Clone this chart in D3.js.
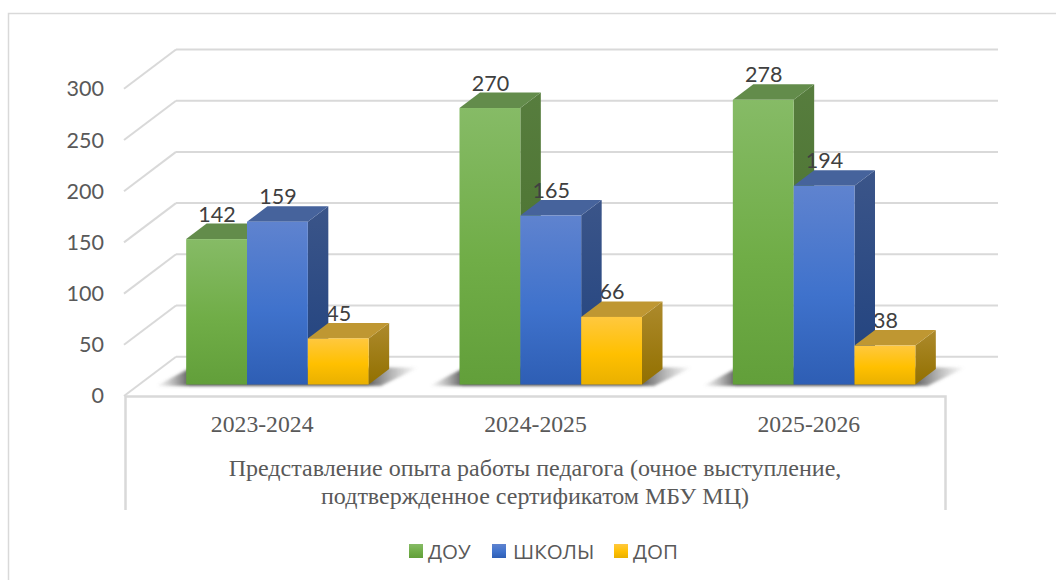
<!DOCTYPE html>
<html>
<head>
<meta charset="utf-8">
<script src="https://cdn.jsdelivr.net/npm/d3@7"></script>
<style>
  html, body { margin: 0; padding: 0; background: #fff; overflow: hidden; }
  svg { display: block; }
  .sans { font-family: Lato, "Open Sans", sans-serif; }
  .legendtxt { font-family: "Open Sans", sans-serif; }
  .serif { font-family: "Liberation Serif", serif; }
</style>
</head>
<body>
<div id="chart"></div>
<script>
// Données du graphique
const years = ["2023-2024", "2024-2025", "2025-2026"];
const seriesNames = ["ДОУ", "ШКОЛЫ", "ДОП"];
const dou = [142, 270, 278];
const shkoly = [159, 165, 194];
const dop = [45, 66, 38];
const yTicks = [0, 50, 100, 150, 200, 250, 300];
const axisTitle = ["Представление опыта работы педагога (очное выступление,", "подтвержденное сертификатом МБУ МЦ)"];

const seriesValues = [dou, shkoly, dop];

// Couleurs : dégradé face avant, dessus, côté
const palette = [
  { front: ["#86bb66", "#70ad47", "#629f3a"], top: "#638c4b", side: ["#577d3e", "#466f2a"] },
  { front: ["#5f83cf", "#3f72cc", "#2e5eb4"], top: "#46639c", side: ["#3b5589", "#20427f"] },
  { front: ["#ffc83f", "#ffc000", "#e9b000"], top: "#bf9732", side: ["#ad8a2c", "#927000"] }
];

const W = 1056, H = 580;
const depthX = 20.5, depthY = 15.5; // profondeur des barres
const wallY = 39.3;                 // profondeur du plancher

const svg = d3.select("#chart").append("svg").attr("width", W).attr("height", H);
const defs = svg.append("defs");

// Échelles
const xBand = d3.scaleBand().domain(years).range([125, 945]);
const xSeries = d3.scaleBand().domain(seriesNames).range([0, 182.5]);
const yWall = d3.scaleLinear().domain([0, 300]).range([356.7, 49.5]);
const yBar = d3.scaleLinear().domain([0, 300]).range([384.5, 77.3]);
const yLabel = d3.scaleLinear().domain([0, 300]).range([396, 89]);

const xBar = (year, name) => xBand(year) + xBand.bandwidth() / 2 - 91.5 + 16 + xSeries(name);

// Dégradés
palette.forEach((p, i) => {
  const g = defs.append("linearGradient").attr("id", "front" + i)
    .attr("x1", 0).attr("y1", 0).attr("x2", 0).attr("y2", 1);
  g.append("stop").attr("offset", "0%").attr("stop-color", p.front[0]);
  g.append("stop").attr("offset", "55%").attr("stop-color", p.front[1]);
  g.append("stop").attr("offset", "100%").attr("stop-color", p.front[2]);
  const s = defs.append("linearGradient").attr("id", "side" + i)
    .attr("x1", 0).attr("y1", 0).attr("x2", 0).attr("y2", 1);
  s.append("stop").attr("offset", "0%").attr("stop-color", p.side[0]);
  s.append("stop").attr("offset", "100%").attr("stop-color", p.side[1]);
});
const shadowGrad = defs.append("linearGradient").attr("id", "shadowGrad");
shadowGrad.append("stop").attr("offset", "0%").attr("stop-color", "#777").attr("stop-opacity", 0);
shadowGrad.append("stop").attr("offset", "13%").attr("stop-color", "#3a3a3a").attr("stop-opacity", 0.85);
shadowGrad.append("stop").attr("offset", "80%").attr("stop-color", "#3a3a3a").attr("stop-opacity", 0.85);
shadowGrad.append("stop").attr("offset", "100%").attr("stop-color", "#777").attr("stop-opacity", 0);
defs.append("filter").attr("id", "soft").attr("x", "-10%").attr("y", "-30%").attr("width", "120%").attr("height", "160%")
  .append("feGaussianBlur").attr("stdDeviation", 1.8);

// Cadre extérieur
svg.append("path")
  .attr("d", `M8.5,${H} V13.5 H${W}`)
  .attr("fill", "none").attr("stroke", "#d9d9d9").attr("stroke-width", 1.5);

// Quadrillage : mur du fond et paroi gauche
const grid = svg.append("g").attr("fill", "none").attr("stroke", "#d9d9d9").attr("stroke-width", 2);
grid.selectAll(".back").data(yTicks).enter().append("line")
  .attr("class", "back")
  .attr("x1", 176).attr("x2", 998)
  .attr("y1", d => yWall(d)).attr("y2", d => yWall(d));
grid.selectAll(".diag").data(yTicks).enter().append("line")
  .attr("class", "diag")
  .attr("x1", 124).attr("x2", 176)
  .attr("y1", d => yWall(d) + wallY).attr("y2", d => yWall(d));

// Axe avant et séparateurs du bas
grid.append("path").attr("d", "M125.5,510 V396.5 H945.5 V510").attr("stroke-width", 2.5);

// Axe des valeurs
const axisY = svg.append("g")
  .attr("transform", "translate(104,0)")
  .call(d3.axisLeft(yLabel).tickValues(yTicks).tickSize(0).tickPadding(0));
axisY.select(".domain").remove();
axisY.selectAll("text").attr("font-size", 21.5).attr("fill", "#595959").attr("font-family", "Lato");

// Ombres au sol
svg.selectAll(".shadow").data(years).enter().append("polygon")
  .attr("class", "shadow")
  .attr("points", d => {
    const x0 = xBar(d, seriesNames[0]);
    const x1 = x0 + 182.5;
    return [[x0 - 30, 386], [x1 + 12, 386], [x1 + 50, 367.5], [x0 + 5, 367.5]].join(" ");
  })
  .attr("fill", "url(#shadowGrad)")
  .attr("filter", "url(#soft)");

const flat = [];
seriesNames.forEach((name, si) => {
  years.forEach((year, yi) => {
    flat.push({ name, si, year, value: seriesValues[si][yi] });
  });
});

// Libellés de données : ceux de ДОП passent sous les barres voisines
const labelOf = sel => sel
  .attr("class", "sans")
  .attr("x", d => xBar(d.year, d.name) + xSeries.bandwidth() / 2 + 0.5)
  .attr("y", d => yBar(d.value) - 25)
  .attr("dy", "0.35em")
  .attr("text-anchor", "middle")
  .attr("font-size", 21.5)
  .attr("fill", "#404040")
  .text(d => d.value);

svg.append("g").selectAll("text").data(flat.filter(d => d.si === 2)).enter().append("text").call(labelOf);

// Barres 3D
const bars = svg.selectAll(".bar").data(flat).enter().append("g").attr("class", "bar");
const bw = xSeries.bandwidth();

bars.append("path")
  .attr("d", d => {
    const x = xBar(d.year, d.name) + bw, y = yBar(d.value), b = yBar(0);
    return `M${x},${y} L${x + depthX},${y - depthY} V${b - depthY} L${x},${b} Z`;
  })
  .attr("fill", d => `url(#side${d.si})`);
bars.append("path")
  .attr("d", d => {
    const x = xBar(d.year, d.name), y = yBar(d.value);
    return `M${x},${y} L${x + depthX},${y - depthY} H${x + bw + depthX} L${x + bw},${y} Z`;
  })
  .attr("fill", d => palette[d.si].top);
bars.append("rect")
  .attr("x", d => xBar(d.year, d.name))
  .attr("y", d => yBar(d.value))
  .attr("width", bw)
  .attr("height", d => yBar(0) - yBar(d.value))
  .attr("fill", d => `url(#front${d.si})`);

svg.append("g").selectAll("text").data(flat.filter(d => d.si !== 2)).enter().append("text").call(labelOf);

// Catégories
svg.append("g").selectAll("text").data(years).enter().append("text")
  .attr("class", "serif")
  .attr("x", d => xBand(d) + xBand.bandwidth() / 2 + 0.5)
  .attr("y", 432)
  .attr("text-anchor", "middle")
  .attr("font-size", 23.7)
  .attr("fill", "#595959")
  .text(d => d);

// Titre de l'axe
svg.append("g").selectAll("text").data(axisTitle).enter().append("text")
  .attr("class", "serif")
  .attr("x", 535)
  .attr("y", (d, i) => 476 + i * 27.5)
  .attr("text-anchor", "middle")
  .attr("font-size", 24)
  .attr("fill", "#595959")
  .text(d => d);

// Légende
const legendX = [409, 492, 614];
const legend = svg.selectAll(".legend").data(seriesNames).enter().append("g")
  .attr("class", "legend")
  .attr("transform", (d, i) => `translate(${legendX[i]},544)`);
legend.append("rect").attr("width", 14).attr("height", 14).attr("fill", (d, i) => `url(#front${i})`);
legend.append("text")
  .attr("class", "legendtxt")
  .attr("x", (d, i) => i === 1 ? 21 : 19)
  .attr("y", 15)
  .attr("font-size", 20.5)
  .attr("fill", "#595959")
  .text(d => d);
</script>
</body>
</html>
